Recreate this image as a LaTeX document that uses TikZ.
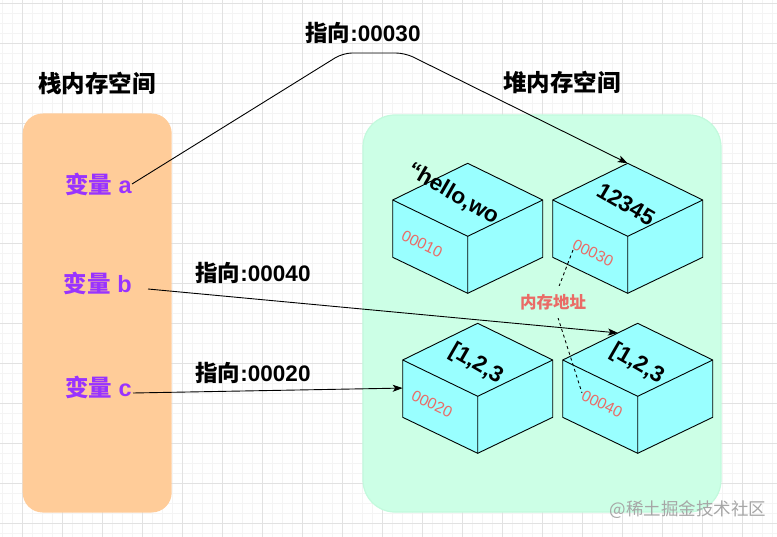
\documentclass[tikz,border=0pt]{standalone}
\usepackage{fontspec}
\setmainfont{Liberation Sans}
\newfontfamily\cjk{Noto Sans CJK SC}
\usetikzlibrary{arrows.meta,calc}
\definecolor{stackfill}{HTML}{FFCC99}
\definecolor{heapfill}{HTML}{CCFFE6}
\definecolor{heapline}{HTML}{C2FADD}
\definecolor{cubefill}{HTML}{99FFFF}
\definecolor{varpurple}{HTML}{9933FF}
\definecolor{addrred}{HTML}{EA6B66}
\definecolor{gridmajor}{HTML}{E2E2E2}
\definecolor{gridminor}{HTML}{F4F4F4}
\definecolor{wmgray}{HTML}{A6A6A6}
\tikzset{
  cubeline/.style={draw=black, line width=0.9pt, line join=miter},
  isobox/.pic={
    \coordinate (-l) at (0,36.7);
    \coordinate (-t) at (75,0);
    \coordinate (-r) at (150,36.7);
    \coordinate (-f) at (75,73);
    \coordinate (-lb) at (0,94);
    \coordinate (-fb) at (75,130);
    \coordinate (-rb) at (150,94);
    \draw[cubeline, fill=cubefill] (-l) -- (-t) -- (-r) -- (-rb) -- (-fb) -- (-lb) -- cycle;
    \draw[cubeline] (-l) -- (-f) -- (-r) (-f) -- (-fb);
  },
  titletext/.style={inner sep=0pt, font=\fontsize{23.5}{27}\selectfont\bfseries\cjk},
  vartext/.style={inner sep=0pt, text=varpurple, font=\fontsize{23.5}{27}\selectfont\bfseries},
  ptrtext/.style={inner sep=0pt, font=\fontsize{22.5}{27}\selectfont\bfseries},
  boxtext/.style={inner sep=0pt, rotate=-30, font=\fontsize{22.5}{26}\selectfont\bfseries},
  addrtext/.style={inner sep=0pt, rotate=-26, text=addrred, font=\fontsize{15.5}{18}\selectfont},
  memtext/.style={inner xsep=2pt, inner ysep=8pt, fill=heapfill, text=addrred, font=\fontsize{16.5}{19}\selectfont\bfseries\cjk},
  ptrline/.style={draw=black, line width=0.9pt, -{Stealth[length=10pt,width=7pt,inset=2.5pt]}},
  memline/.style={draw=black, line width=0.9pt, dash pattern=on 3pt off 3pt},
  stackpanel/.style={fill=stackfill, rounded corners=20pt, minimum width=149pt, minimum height=399pt, inner sep=0pt},
  heappanel/.style={fill=heapfill, draw=heapline, line width=1.2pt, rounded corners=32pt, minimum width=358pt, minimum height=397pt, inner sep=0pt},
  wmtext/.style={inner sep=0pt, text=wmgray, font=\fontsize{17.5}{20}\selectfont\cjk}
}
\begin{document}
\begin{tikzpicture}[x=1pt,y=-1pt]
\useasboundingbox (0,0) rectangle (777,537);
\fill[white] (0,0) rectangle (777,537);
% grid
\foreach \gx in {2.7,12.7,...,772.7} \draw[gridminor, line width=0.8pt] (\gx,0) -- (\gx,537);
\foreach \gy in {3.3,13.3,...,533.3} \draw[gridminor, line width=0.8pt] (0,\gy) -- (777,\gy);
\foreach \gx in {22.7,62.7,...,742.7} \draw[gridmajor, line width=0.9pt] (\gx,0) -- (\gx,537);
\foreach \gy in {3.3,43.3,...,523.3} \draw[gridmajor, line width=0.9pt] (0,\gy) -- (777,\gy);

% panels
\node[stackpanel] (stack) at (97.2,313) {};
\node[heappanel] (heap) at (542,313.5) {};

% titles
\node[titletext] (stktitle) at (97,83) {栈内存空间};
\node[titletext] (heaptitle) at (562,82) {堆内存空间};

% cubes
\pic (c1) at (392.7,163.3) {isobox};
\pic (c2) at (552.7,163.3) {isobox};
\pic (c3) at (402.7,323.3) {isobox};
\pic (c4) at (562.7,323.3) {isobox};

% cube texts
\node[boxtext] (t1) at (453,194) {“hello,wo};
\node[boxtext] (t2) at (626,204) {12345};
\node[boxtext] (t3) at (476,364) {[1,2,3};
\node[boxtext] (t4) at (637,364) {[1,2,3};

\node[addrtext] (ad1) at (422,244) {00010};
\node[addrtext] (ad2) at (593,253) {00030};
\node[addrtext] (ad3) at (432,404) {00020};
\node[addrtext] (ad4) at (602,404) {00040};

% memory address connector
\coordinate (adtop) at (573,250);
\coordinate (adbot) at (582,393);
\coordinate (memc) at (553,302);
\draw[memline] (adtop) -- (memc) -- (adbot);
\node[memtext] (mem) at (memc) {内存地址};

% variables
\node[vartext, anchor=east] (va) at (132,184) {{\cjk 变量} a};
\node[vartext, anchor=east] (vb) at (132,283) {{\cjk 变量} b};
\node[vartext, anchor=east] (vc) at (132,387) {{\cjk 变量} c};

% pointer labels
\node[ptrtext] (pa) at (363,33) {{\cjk 指向}:00030};
\node[ptrtext] (pb) at (253,273) {{\cjk 指向}:00040};
\node[ptrtext] (pc) at (253,373) {{\cjk 指向}:00020};

% connectors
\coordinate (bstart) at (148,289);
\coordinate (cstart) at (133,393);
\coordinate (bhit) at ($(c4-l)!0.737!(c4-t)$);
\coordinate (chit) at ($(c3-l)!0.49!(c3-lb)$);
\coordinate (abend1) at (343,53);
\coordinate (abend2) at (405,53);
\draw[ptrline, rounded corners=9pt] (va.east) -- (abend1) -- (abend2) -- (c2-t);
\draw[ptrline] (bstart) -- (bhit);
\draw[ptrline] (cstart) -- (chit);

% watermark
\node[wmtext] (wm) at (688,510) {@稀土掘金技术社区};
\end{tikzpicture}
\end{document}
